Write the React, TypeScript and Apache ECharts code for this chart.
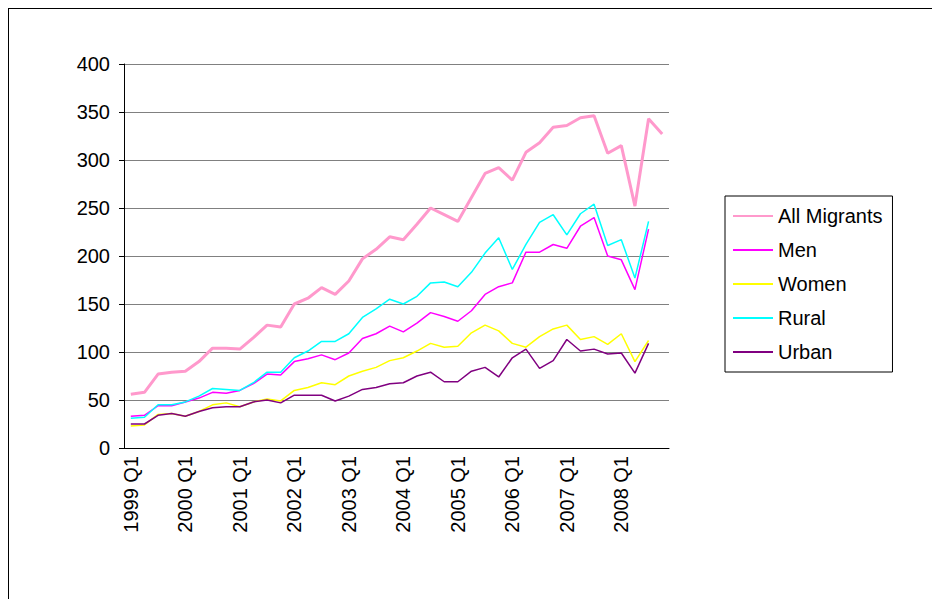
import React, { useEffect, useRef } from 'react';
import * as echarts from 'echarts';

const quarters: string[] = [];
for (let y = 1999; y <= 2008; y++) for (let q = 1; q <= 4; q++) quarters.push(`${y} Q${q}`);

const allMigrants = [56, 58, 77, 79, 80, 90, 104, 104, 103, 115, 128, 126, 150, 156, 167, 160, 174, 197, 207, 220, 217, 233, 250, 243, 236, 261, 286, 292, 279, 308, 318, 334, 336, 344, 346, 307, 315, 252, 343, 327];
const men = [33, 34, 44, 44, 48, 52, 58, 57, 60, 67, 77, 76, 90, 93, 97, 92, 99, 114, 119, 127, 121, 130, 141, 137, 132, 143, 160, 168, 172, 204, 204, 212, 208, 231, 240, 200, 196, 165, 228];
const women = [23, 24, 35, 36, 33, 38, 45, 47, 43, 48, 51, 49, 60, 63, 68, 66, 75, 80, 84, 91, 94, 101, 109, 105, 106, 120, 128, 122, 109, 105, 116, 124, 128, 113, 116, 108, 119, 90, 112];
const rural = [31, 32, 45, 45, 48, 54, 62, 61, 60, 68, 79, 79, 94, 101, 111, 111, 119, 136, 145, 155, 150, 158, 172, 173, 168, 183, 203, 219, 186, 212, 235, 243, 222, 244, 254, 211, 217, 177, 236];
const urban = [25, 25, 34, 36, 33, 38, 42, 43, 43, 48, 50, 47, 55, 55, 55, 49, 54, 61, 63, 67, 68, 75, 79, 69, 69, 80, 84, 74, 94, 103, 83, 91, 113, 101, 103, 98, 99, 78, 109];

const seriesDefs = [
  { name: 'All Migrants', data: allMigrants, color: '#ff99cc', width: 3 },
  { name: 'Men', data: men, color: '#ff00ff', width: 1.5 },
  { name: 'Women', data: women, color: '#ffff00', width: 1.5 },
  { name: 'Rural', data: rural, color: '#00ffff', width: 1.5 },
  { name: 'Urban', data: urban, color: '#800080', width: 1.5 },
];

const App: React.FC = () => {
  const chartRef = useRef<HTMLDivElement>(null);

  useEffect(() => {
    if (!chartRef.current) return;
    const chart = echarts.init(chartRef.current, undefined, { renderer: 'svg' });
    chart.setOption({
      animation: false,
      backgroundColor: '#ffffff',
      textStyle: { fontFamily: 'Liberation Sans, Arial, sans-serif' },
      grid: { left: 115, top: 55, width: 545, height: 384 },
      legend: {
        orient: 'vertical',
        left: 716,
        top: 187,
        itemWidth: 40,
        itemHeight: 2,
        itemGap: 14,
        padding: [10, 10, 10, 8],
        borderColor: '#000',
        borderWidth: 1,
        borderRadius: 0,
        icon: 'rect',
        textStyle: { fontSize: 20, color: '#000' },
        data: seriesDefs.map((s) => s.name),
      },
      xAxis: {
        type: 'category',
        data: quarters,
        boundaryGap: true,
        axisLine: { lineStyle: { color: '#000' } },
        axisTick: { interval: 0, length: 5, lineStyle: { color: '#000' } },
        axisLabel: { interval: 3, rotate: 90, fontSize: 20, color: '#000', margin: 8 },
      },
      yAxis: {
        type: 'value',
        min: 0,
        max: 400,
        interval: 50,
        axisLine: { show: true, lineStyle: { color: '#000' } },
        axisTick: { show: true, length: 5, lineStyle: { color: '#000' } },
        axisLabel: { fontSize: 20, color: '#000', margin: 14 },
        splitLine: { lineStyle: { color: '#808080', width: 1 } },
      },
      series: seriesDefs.map((s) => ({
        name: s.name,
        type: 'line',
        data: s.data,
        symbol: 'none',
        color: s.color,
        lineStyle: { color: s.color, width: s.width },
      })),
    });
    return () => chart.dispose();
  }, []);

  return (
    <div
      ref={chartRef}
      style={{ width: 932, height: 591, border: '1px solid #000', borderRight: 'none', borderBottom: 'none', boxSizing: 'border-box' }}
    />
  );
};

export default App;
